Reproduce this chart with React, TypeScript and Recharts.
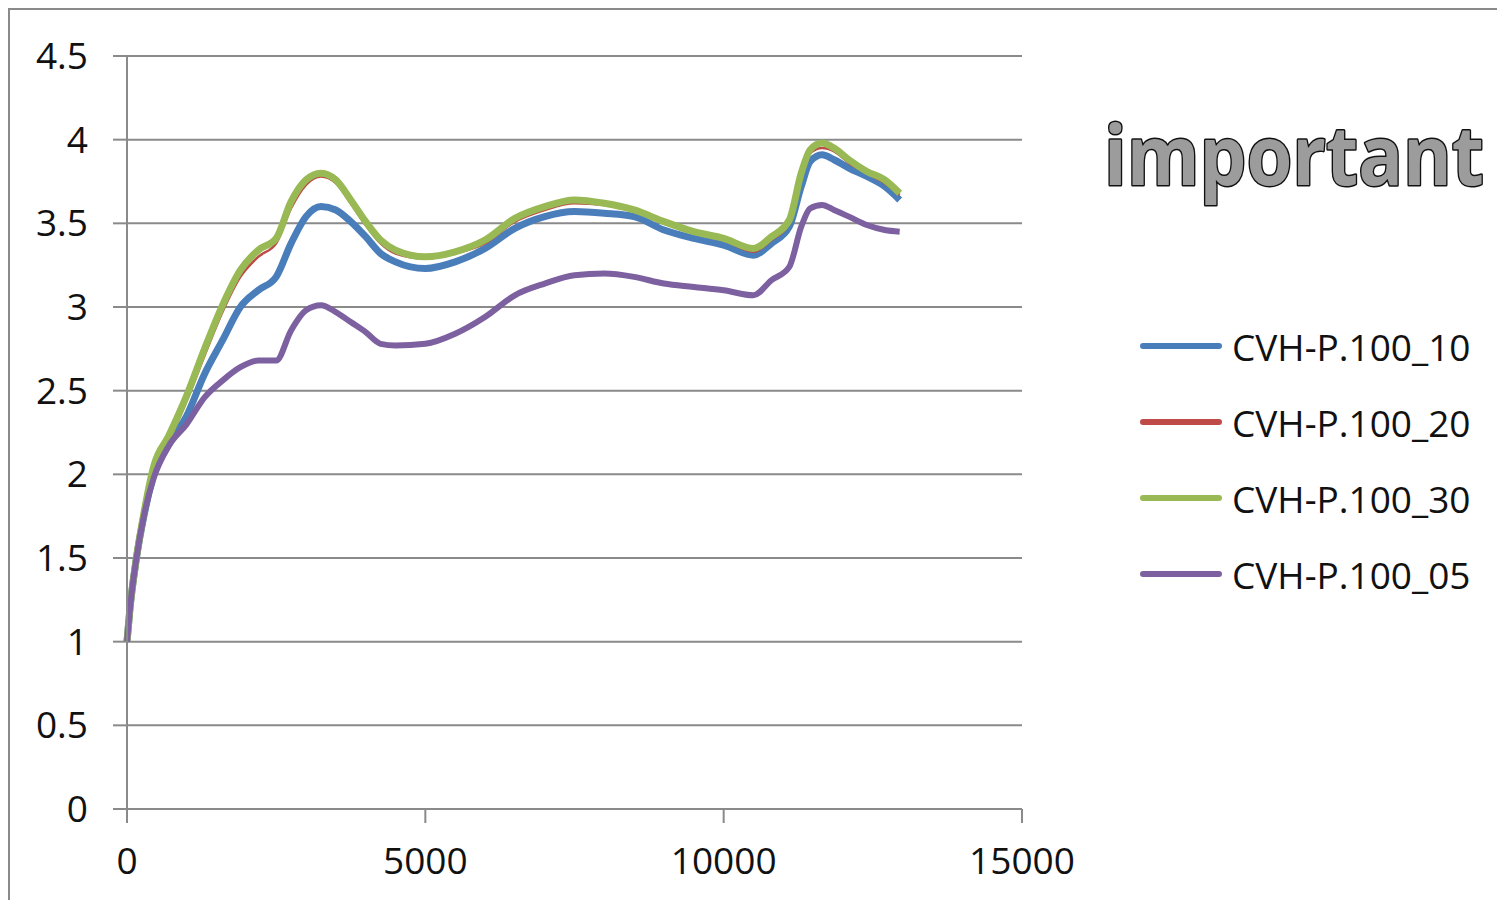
import { LineChart, Line, XAxis, YAxis, CartesianGrid, Legend } from "recharts";

// sampling positions along the x axis
const xPos = [
  0, 50, 150, 300, 450, 700, 1000, 1300, 1600, 1900, 2200, 2500, 2750, 3000, 3250, 3500, 3750, 4000, 4250, 4500,
  5000, 5500, 6000, 6500, 7000, 7500, 8000, 8500, 9000, 9500, 10000, 10500, 10800, 11100, 11300, 11450, 11650,
  11850, 12100, 12400, 12700, 12950,
];

const cvh10 = [
  1.0, 1.2, 1.48, 1.78, 2.0, 2.18, 2.35, 2.6, 2.8, 3.0, 3.1, 3.18, 3.38, 3.54, 3.6, 3.58, 3.51, 3.42, 3.32, 3.27,
  3.23, 3.27, 3.35, 3.47, 3.54, 3.57, 3.56, 3.54, 3.46, 3.41, 3.37, 3.31, 3.38, 3.48, 3.72, 3.87, 3.91,
  3.88, 3.83, 3.78, 3.72, 3.64,
];

const cvh20 = [
  1.0, 1.2, 1.48, 1.79, 2.03, 2.2, 2.44, 2.71, 2.97, 3.18, 3.3, 3.38, 3.59, 3.73, 3.78, 3.74, 3.62, 3.49, 3.38, 3.32,
  3.29, 3.32, 3.38, 3.51, 3.58, 3.62, 3.61, 3.57, 3.5, 3.44, 3.4, 3.33, 3.4, 3.5, 3.77, 3.92, 3.95,
  3.93, 3.86, 3.8, 3.74, 3.67,
];

const cvh30 = [
  1.0, 1.2, 1.48, 1.8, 2.05, 2.23, 2.47, 2.75, 3.01, 3.22, 3.34, 3.41, 3.63, 3.76, 3.8, 3.76, 3.64, 3.51, 3.4, 3.34,
  3.3, 3.33, 3.4, 3.53, 3.6, 3.64, 3.62, 3.58, 3.51, 3.45, 3.41, 3.35, 3.42, 3.52, 3.8, 3.94, 3.98,
  3.95, 3.88, 3.81, 3.76, 3.68,
];

const cvh05 = [
  1.0, 1.2, 1.48, 1.78, 1.98, 2.17, 2.3, 2.46, 2.56, 2.64, 2.68, 2.68, 2.86, 2.98, 3.01, 2.97, 2.91, 2.85, 2.78, 2.77,
  2.78, 2.84, 2.94, 3.07, 3.14, 3.19, 3.2, 3.18, 3.14, 3.12, 3.1, 3.07, 3.16, 3.24, 3.48, 3.59, 3.61,
  3.58, 3.54, 3.49, 3.46, 3.45,
];

const yTicks = [0, 0.5, 1, 1.5, 2, 2.5, 3, 3.5, 4, 4.5];
const xTicks = [0, 5000, 10000, 15000];

const series = [
  { key: "p10", name: "CVH-P.100_10", color: "#4a7ebb", width: 7 },
  { key: "p20", name: "CVH-P.100_20", color: "#be4b48", width: 2.5 },
  { key: "p30", name: "CVH-P.100_30", color: "#98b954", width: 7 },
  { key: "p05", name: "CVH-P.100_05", color: "#7d60a0", width: 6 },
];

const data = xPos.map((x, i) => ({
  x,
  p10: cvh10[i],
  p20: cvh20[i],
  p30: cvh30[i],
  p05: cvh05[i],
}));

const FONT = "'Open Sans', sans-serif";
const AXIS = "#8a8a8a";

// legend rows keep the series order (10, 20, 30, 05)
function LegendBox() {
  return (
    <div style={{ fontFamily: FONT }}>
      {series.map((s) => (
        <div key={s.key} style={{ display: "flex", alignItems: "center", height: 76 }}>
          <span
            style={{
              display: "inline-block",
              width: 82,
              height: 6,
              borderRadius: 3,
              background: s.color,
              marginRight: 10,
            }}
          />
          <span style={{ fontSize: 37, color: "#111", lineHeight: 1 }}>{s.name}</span>
        </div>
      ))}
    </div>
  );
}

export default function App() {
  return (
    <div
      style={{
        position: "relative",
        width: 1495,
        height: 890,
        borderLeft: `2px solid ${AXIS}`,
        borderTop: `2px solid ${AXIS}`,
        overflow: "hidden",
        fontFamily: FONT,
      }}
    >
      {/* outlined grey caption, squeezed to a fixed width */}
      <svg width={1495} height={240} style={{ position: "absolute", left: 0, top: 0 }}>
        <text
          x={1094}
          y={175}
          fontSize={82}
          fontWeight={700}
          fontFamily={FONT}
          fill="#9c9c9c"
          stroke="#111"
          strokeWidth={3}
          paintOrder="stroke"
          strokeLinejoin="round"
          textLength={380}
          lengthAdjust="spacingAndGlyphs"
        >
          important
        </text>
      </svg>

      <LineChart
        width={1495}
        height={890}
        data={data}
        margin={{ top: 46, right: 483, left: 0, bottom: 0 }}
      >
        <CartesianGrid vertical={false} stroke={AXIS} strokeWidth={2} />
        <XAxis
          dataKey="x"
          type="number"
          domain={[0, 15000]}
          ticks={xTicks}
          height={91}
          stroke={AXIS}
          strokeWidth={2}
          tickSize={14}
          tickMargin={25}
          tick={{ fill: "#111", fontSize: 37, fontFamily: FONT }}
        />
        <YAxis
          type="number"
          domain={[0, 4.5]}
          ticks={yTicks}
          width={117}
          stroke={AXIS}
          strokeWidth={2}
          tickSize={14}
          tickMargin={25}
          tick={{ fill: "#111", fontSize: 37, fontFamily: FONT }}
        />
        <Legend
          layout="vertical"
          align="center"
          verticalAlign="middle"
          content={<LegendBox />}
          wrapperStyle={{ left: 1130, top: 298, width: 360 }}
        />
        {series.map((s) => (
          <Line
            key={s.key}
            dataKey={s.key}
            name={s.name}
            type="monotone"
            stroke={s.color}
            strokeWidth={s.width}
            dot={false}
            isAnimationActive={false}
          />
        ))}
      </LineChart>
    </div>
  );
}
